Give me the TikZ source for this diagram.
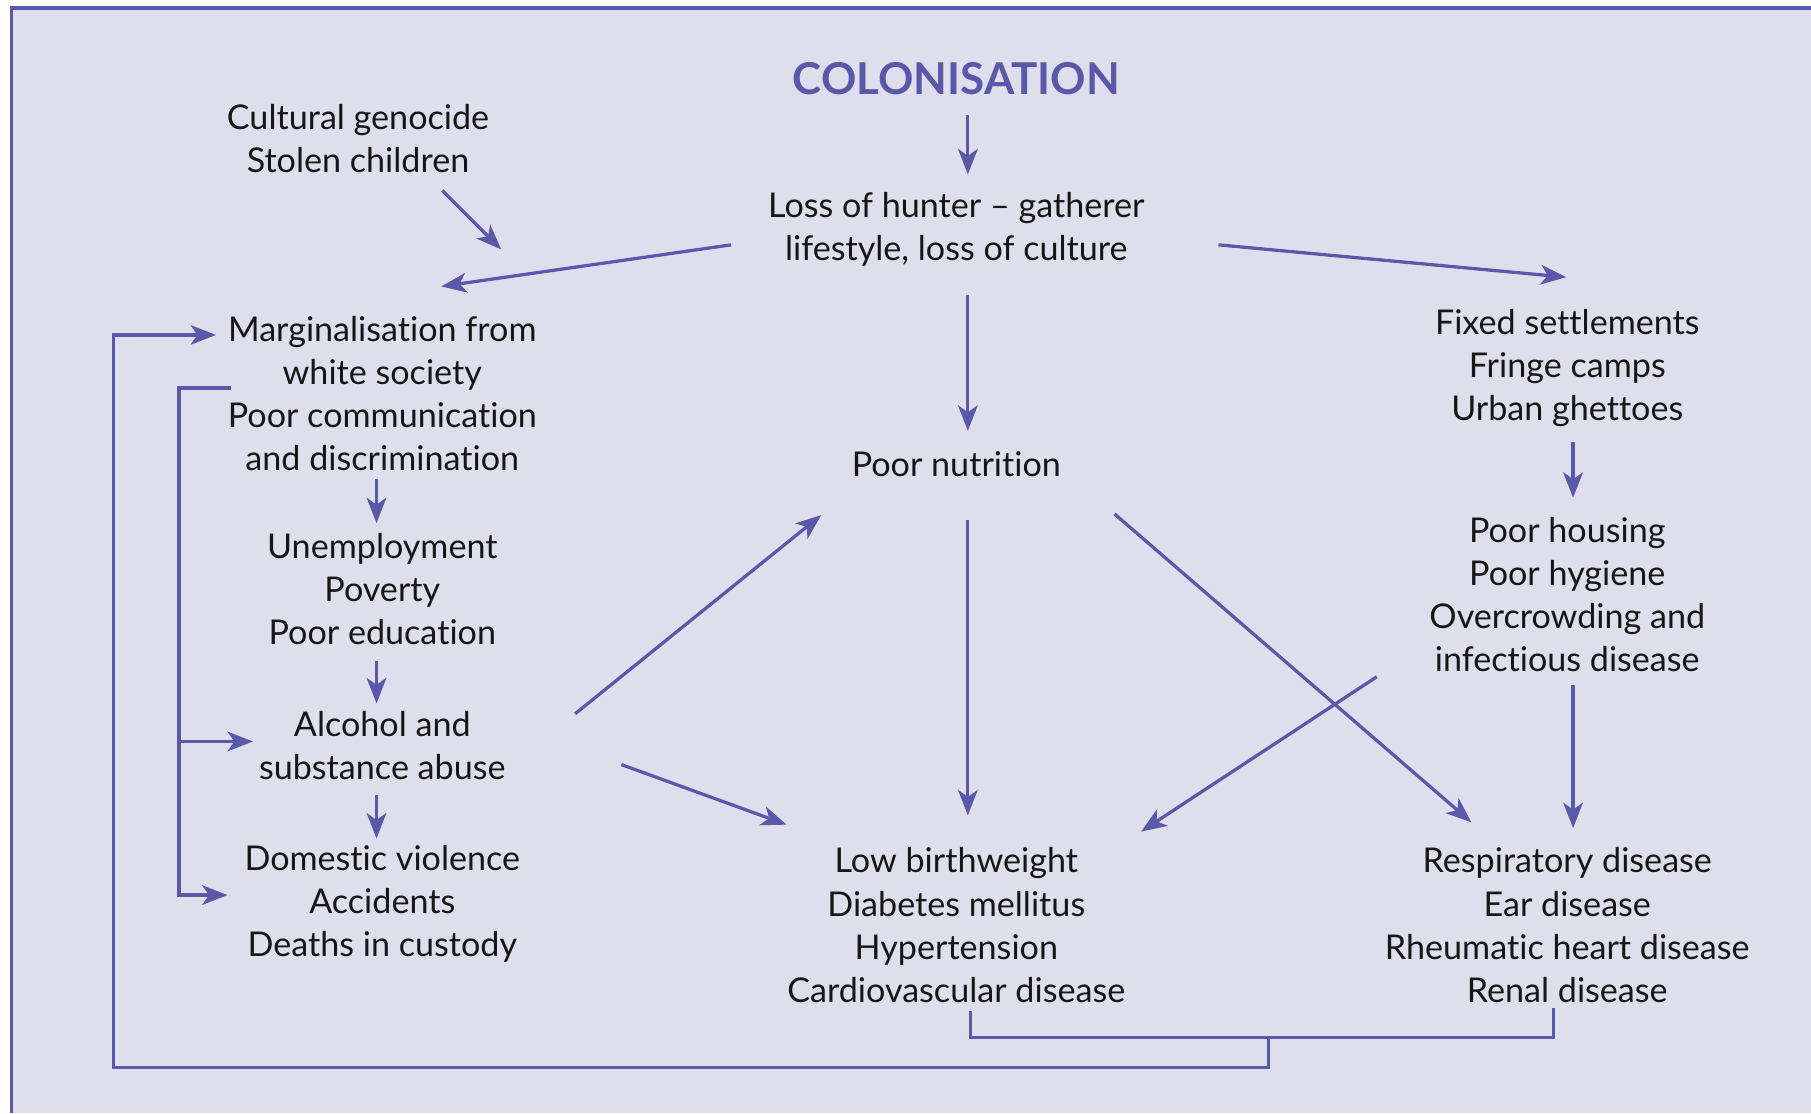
\documentclass[tikz,border=0pt]{standalone}
\usepackage{fontspec}
\setmainfont{Lato}[Ligatures={NoCommon}]
\usetikzlibrary{arrows.meta}
\definecolor{lav}{RGB}{222,222,236}
\definecolor{pur}{RGB}{90,88,168}
\definecolor{ink}{RGB}{22,22,22}
\begin{document}
\begin{tikzpicture}[x=0.01cm,y=-0.01cm,
  txt/.style={align=center, text=ink, font=\fontsize{8.4}{10.6}\selectfont, inner sep=0pt},
  ttl/.style={text=pur, font=\fontsize{10.8}{12}\selectfont\bfseries, inner sep=0pt},
  arr/.style={draw=pur, line width=0.8pt, -{Stealth[length=2.2mm,width=1.7mm,inset=0.6mm]}},
  ln/.style={draw=pur, line width=0.8pt}]
\useasboundingbox (0,0) rectangle (1568,964);
\fill[white] (0,0) rectangle (1568,964);
\fill[lav] (10,7) rectangle (1568,964);
\draw[pur, line width=0.9pt] (10,964) -- (10,7) -- (1568,7);

% nodes
\node[ttl] (title) at (828,68) {COLONISATION};
\node[txt] (loss) at (828,199) {Loss of hunter -- gatherer\\lifestyle, loss of culture};
\node[txt] (cult) at (310,120) {Cultural genocide\\Stolen children};
\node[txt] (marg) at (331,340.5) {Marginalisation from\\white society\\Poor communication\\and discrimination};
\node[txt] (unemp) at (331,510) {Unemployment\\Poverty\\Poor education};
\node[txt] (alc) at (331,645.5) {Alcohol and\\substance abuse};
\node[txt] (dom) at (331,782.5) {Domestic violence\\Accidents\\Deaths in custody};
\node[txt] (nut) at (828,402) {Poor nutrition};
\node[txt] (fixed) at (1357,319) {Fixed settlements\\Fringe camps\\Urban ghettoes};
\node[txt] (house) at (1357,514.5) {Poor housing\\Poor hygiene\\Overcrowding and\\infectious disease};
\node[txt] (low) at (828,801) {Low birthweight\\Diabetes mellitus\\Hypertension\\Cardiovascular disease};
\node[txt] (resp) at (1357,801) {Respiratory disease\\Ear disease\\Rheumatic heart disease\\Renal disease};

% connector end points
\coordinate (t1) at (838,100); \coordinate (t2) at (838,151);
\coordinate (c1) at (383,165); \coordinate (c2) at (434,216);
\coordinate (l1) at (633,212); \coordinate (l2) at (382,248);
\coordinate (r1) at (1055,212); \coordinate (r2) at (1356,240);
\coordinate (n1) at (838,255); \coordinate (n2) at (838,373);
\coordinate (m1) at (326,415); \coordinate (m2) at (326,453);
\coordinate (u1) at (326,572); \coordinate (u2) at (326,609);
\coordinate (a1) at (326,688); \coordinate (a2) at (326,726);
\coordinate (an1) at (498,618); \coordinate (an2) at (711,446);
\coordinate (al1) at (538,662); \coordinate (al2) at (681,714);
\coordinate (nl1) at (838,450); \coordinate (nl2) at (838,706);
\coordinate (nr1) at (965,445); \coordinate (nr2) at (1274,712);
\coordinate (hl1) at (1192,586); \coordinate (hl2) at (988,720);
\coordinate (f1) at (1362,383); \coordinate (f2) at (1362,431);
\coordinate (h1) at (1362,593); \coordinate (h2) at (1362,717);
\coordinate (b1) at (840,875); \coordinate (b2) at (1345,873);
\coordinate (bm) at (1098,898);
\coordinate (o1) at (98,924); \coordinate (o2) at (187,290);
\coordinate (i1) at (200,336); \coordinate (i2) at (155,642);
\coordinate (i3) at (219,642); \coordinate (i4) at (197,775);

\draw[arr] (t1) -- (t2);
\draw[arr] (c1) -- (c2);
\draw[arr] (l1) -- (l2);
\draw[arr] (r1) -- (r2);
\draw[arr] (n1) -- (n2);
\draw[arr] (m1) -- (m2);
\draw[arr] (u1) -- (u2);
\draw[arr] (a1) -- (a2);
\draw[arr] (an1) -- (an2);
\draw[arr] (al1) -- (al2);
\draw[arr] (nl1) -- (nl2);
\draw[arr] (nr1) -- (nr2);
\draw[arr] (hl1) -- (hl2);
\draw[arr] (f1) -- (f2);
\draw[arr] (h1) -- (h2);

% feedback brackets
\draw[ln] (b1) |- (bm) -| (b2);
\draw[arr] (bm) |- (o1) |- (o2);
\draw[arr] (i1) -| (i4 -| i2) -- (i4);
\draw[arr] (i2) -- (i3);
\end{tikzpicture}
\end{document}
